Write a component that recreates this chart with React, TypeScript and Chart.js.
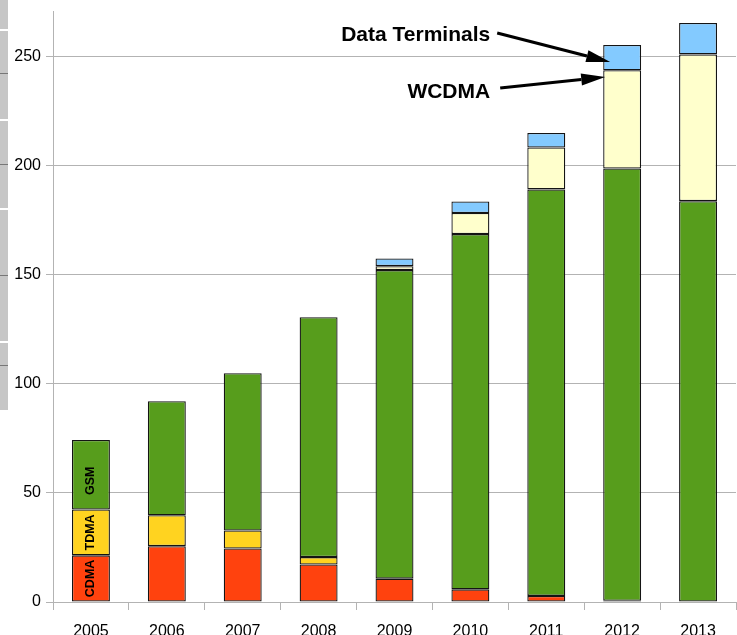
import React, { useEffect, useRef } from "react";
import { Chart, registerables } from "chart.js";

Chart.register(...registerables);

const years = ["2005", "2006", "2007", "2008", "2009", "2010", "2011", "2012", "2013"];
const cdma = [21.4, 25.6, 24.5, 17.2, 10.7, 5.8, 2.8, 0.6, 0];
const tdma = [21.0, 14.2, 8.3, 3.4, 0, 0, 0, 0, 0];
const gsm = [31.9, 52.3, 72.1, 110.0, 141.5, 162.9, 186.4, 198.2, 183.8];
const wcdma = [0, 0, 0, 0, 1.8, 9.7, 19.2, 45.0, 67.3];
const dataTerminals = [0, 0, 0, 0, 3.5, 5.3, 6.7, 11.6, 14.4];
const yTicks = [0, 50, 100, 150, 200, 250];
const yMax = 271;

const FONT = "'Liberation Sans', Arial, sans-serif";

const segmentLabels = {
  id: "segmentLabels",
  afterDatasetsDraw(chart: any) {
    const ctx = chart.ctx;
    const names = ["CDMA", "TDMA", "GSM"];
    ctx.save();
    ctx.font = `bold 12.5px ${FONT}`;
    ctx.fillStyle = "#000";
    ctx.textAlign = "center";
    ctx.textBaseline = "middle";
    names.forEach((n, i) => {
      const el = chart.getDatasetMeta(i).data[0];
      if (!el) return;
      const cy = (el.y + el.base) / 2 + (i === 2 ? 6 : 0);
      ctx.save();
      ctx.translate(el.x, cy);
      ctx.rotate(-Math.PI / 2);
      ctx.fillText(n, 0, 0);
      ctx.restore();
    });
    ctx.restore();
  },
};

function arrow(ctx: any, x1: number, y1: number, x2: number, y2: number) {
  const ang = Math.atan2(y2 - y1, x2 - x1);
  const hl = 24;
  const hw = 6;
  const bx = x2 - hl * Math.cos(ang);
  const by = y2 - hl * Math.sin(ang);
  ctx.beginPath();
  ctx.moveTo(x1, y1);
  ctx.lineTo(bx, by);
  ctx.lineWidth = 3;
  ctx.strokeStyle = "#000";
  ctx.stroke();
  ctx.beginPath();
  ctx.moveTo(x2, y2);
  ctx.lineTo(bx + hw * Math.sin(ang), by - hw * Math.cos(ang));
  ctx.lineTo(bx - hw * Math.sin(ang), by + hw * Math.cos(ang));
  ctx.closePath();
  ctx.fillStyle = "#000";
  ctx.fill();
}

const annotations = {
  id: "annotations",
  afterDatasetsDraw(chart: any) {
    const ctx = chart.ctx;
    const y = chart.scales.y;
    const el = chart.getDatasetMeta(4).data[7];
    if (!el) return;
    const left = el.x - el.width / 2;
    const dtTip = { x: left + 7, y: y.getPixelForValue(247.6) };
    const wTip = { x: left + 2, y: y.getPixelForValue(240.7) };
    ctx.save();
    arrow(ctx, dtTip.x - 113, dtTip.y - 29, dtTip.x, dtTip.y);
    arrow(ctx, wTip.x - 105, wTip.y + 11, wTip.x, wTip.y);
    ctx.font = `bold 21px ${FONT}`;
    ctx.fillStyle = "#000";
    ctx.textAlign = "right";
    ctx.textBaseline = "alphabetic";
    ctx.fillText("Data Terminals", dtTip.x - 120, dtTip.y - 21);
    ctx.fillText("WCDMA", wTip.x - 115, wTip.y + 21);
    ctx.restore();
  },
};

export default function App() {
  const ref = useRef<HTMLCanvasElement | null>(null);
  useEffect(() => {
    if (!ref.current) return;
    const border = "#141414";
    const mk = (label: string, data: number[], color: string) => ({
      label,
      data,
      backgroundColor: color,
      borderColor: border,
      borderWidth: 1.3,
      borderSkipped: false,
    });
    const chart = new Chart(ref.current, {
      type: "bar",
      data: {
        labels: years,
        datasets: [
          mk("CDMA", cdma, "#ff420e"),
          mk("TDMA", tdma, "#ffd320"),
          mk("GSM", gsm, "#579d1c"),
          mk("WCDMA", wcdma, "#ffffcc"),
          mk("Data Terminals", dataTerminals, "#83caff"),
        ],
      },
      options: {
        animation: false,
        responsive: false,
        maintainAspectRatio: false,
        layout: { padding: { top: 11, right: 1, left: 0, bottom: 0 } },
        plugins: { legend: { display: false }, tooltip: { enabled: false } },
        datasets: { bar: { barPercentage: 0.5, categoryPercentage: 1 } },
        scales: {
          x: {
            stacked: true,
            offset: true,
            grid: {
              offset: true,
              color: (c: any) => (c.index === years.length ? "#b3b3b3" : "rgba(0,0,0,0)"),
              tickColor: "#b3b3b3",
              tickLength: 8,
              lineWidth: 1,
            },
            border: { display: true, color: "#b3b3b3" },
            ticks: { color: "#000", font: { family: FONT, size: 16 }, padding: 12, maxRotation: 0 },
            afterFit: (s: any) => {
              s.height = 38;
              s.paddingLeft = 0;
              s.paddingRight = 0;
            },
          },
          y: {
            stacked: true,
            min: 0,
            max: yMax,
            grid: { color: "#b3b3b3", tickColor: "#b3b3b3", tickLength: 7 },
            border: { display: true, color: "#b3b3b3" },
            ticks: { color: "#000", font: { family: FONT, size: 16 }, padding: 5, stepSize: 50 },
            afterBuildTicks: (s: any) => {
              s.ticks = yTicks.map((v) => ({ value: v }));
            },
            afterFit: (s: any) => {
              s.width = 53;
              s.paddingTop = 0;
              s.paddingBottom = 0;
            },
          },
        },
      },
      plugins: [segmentLabels, annotations],
    });
    return () => chart.destroy();
  }, []);

  return (
    <div style={{ position: "fixed", left: 0, top: 0, width: 737, height: 640, background: "#fff" }}>
      <canvas ref={ref} width={737} height={640} style={{ display: "block", width: 737, height: 640 }} />
      <div style={{ position: "absolute", left: 0, top: 0, width: 8, height: 410, background: "#c6c6c6" }}>
        <div style={{ position: "absolute", top: 29, height: 2, width: 8, background: "#fff" }} />
        <div style={{ position: "absolute", top: 73, height: 1, width: 8, background: "#777" }} />
        <div style={{ position: "absolute", top: 119, height: 2, width: 8, background: "#fff" }} />
        <div style={{ position: "absolute", top: 164, height: 1, width: 8, background: "#777" }} />
        <div style={{ position: "absolute", top: 208, height: 2, width: 8, background: "#fff" }} />
        <div style={{ position: "absolute", top: 275, height: 1, width: 8, background: "#777" }} />
        <div style={{ position: "absolute", top: 341, height: 2, width: 8, background: "#fff" }} />
        <div style={{ position: "absolute", top: 365, height: 1, width: 8, background: "#777" }} />
      </div>
    </div>
  );
}
